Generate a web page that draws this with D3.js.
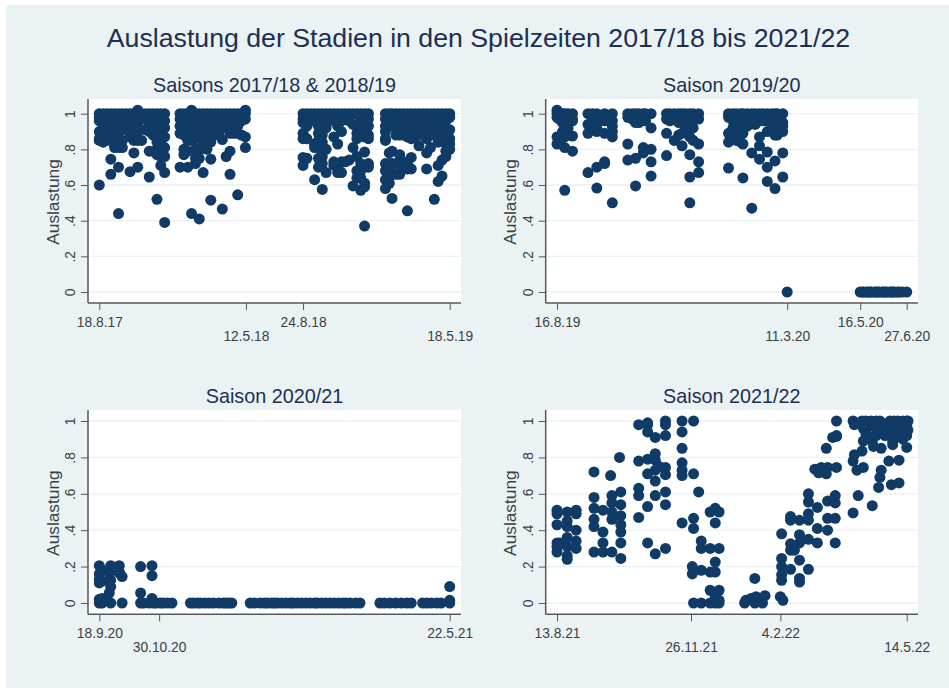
<!DOCTYPE html>
<html><head><meta charset="utf-8">
<script src="https://cdn.jsdelivr.net/npm/d3@7"></script>
<style>html,body{margin:0;padding:0;background:#fff}svg{display:block}text{font-family:"Liberation Sans",Arial,sans-serif}</style>
</head><body><div id="c"></div>
<script>
const mainTitle = "Auslastung der Stadien in den Spielzeiten 2017/18 bis 2021/22";
const yLabel = "Auslastung";
const yTicks = [0, .2, .4, .6, .8, 1];
const yTickLabels = ["0", ".2", ".4", ".6", ".8", "1"];

const titles = ["Saisons 2017/18 & 2018/19", "Saison 2019/20", "Saison 2020/21", "Saison 2021/22"];
const tickDates1 = ["18.8.17", "12.5.18", "24.8.18", "18.5.19"];
const tickDates2 = ["16.8.19", "11.3.20", "16.5.20", "27.6.20"];
const tickDates3 = ["18.9.20", "30.10.20", "22.5.21"];
const tickDates4 = ["13.8.21", "26.11.21", "4.2.22", "14.5.22"];

// days since the first tick of each panel, with the Auslastung values seen on that day
const days1 = [0,7,14,21,28,35,42,49,56,63,70,77,84,91,98,105,112,119,
  147,154,161,168,175,182,189,196,203,210,217,224,231,238,245,252,259,266,
  371,378,385,392,399,406,413,420,427,434,441,448,455,462,469,476,483,490,
  521,528,533,540,547,554,561,568,575,582,589,596,603,610,617,624,631,638];
const values1 = [
  [1,.98,.96,.90,.86,.85,.60],[1,.97,.93,.88,.84],[1,.96,.92,.88,.85],[1,.97,.93,.88,.745,.66],
  [1,.96,.92,.87,.85,.82,.81],[1,.95,.90,.87,.81,.70,.44],[1,.96,.91,.85,.81],[1,.97,.93],
  [1,.97,.93,.90,.87,.675],[1,.94,.90,.85,.78],[1.02,.98,.95,.90,.85,.70],[1,.97,.85],
  [1,.97,.91],[1,.95,.90,.79,.645],[1,.97,.93,.88,.79],[1,.96,.92,.88,.84,.77,.52],
  [1,.96,.92,.88,.84,.80,.76,.71],[1,.96,.92,.87,.81,.76,.67,.39],
  [1,.97,.93,.89,.70],[1,.96,.92,.88,.80,.77],[1,.97,.93,.89,.85,.79,.70],[1.02,.98,.95,.90,.85,.44],
  [1,.96,.91,.86,.80,.75,.72],[1,.97,.92,.87,.80,.75,.41],[1,.96,.92,.88,.84,.67],[1,.97,.92,.85,.80],
  [1,.96,.90,.84,.745,.515],[1,.96,.92,.88],[1,.97,.93,.89],[1,.96,.92,.855,.465],
  [1,.97,.92,.76],[1,.96,.92,.89,.79,.66],[1,.97,.89],[1,.97,.93,.89,.545],[1,.96,.88],[1.02,1,.97,.87,.81],
  [1,.97,.95,.89,.86,.755,.71],[1,.97,.93,.86,.75],[1],[1,.96,.83,.81,.63],
  [1,.97,.93,.89,.85,.81,.75,.70],[1,.96,.92,.88,.84,.80,.76,.72,.575],[1,.96,.92,.80,.67],[1,.97],
  [1,.96,.87,.73,.71],[1,.97,.93,.83,.70,.67],[1,.96,.90,.73,.67],[1,.73],[1,.96,.74],[1,.94,.81,.595],
  [1,.93,.89,.86,.76,.68,.64],[1,.97,.93,.88,.72,.68,.64,.57],[1,.95,.91,.87,.785,.70,.61,.59,.37],[1,.97,.93,.88,.86,.72,.70],
  [1,.97,.93,.90,.86,.85,.72,.68,.63,.58],[1,.97,.78,.72,.68,.65,.61],[1,.96,.93,.79,.72,.66,.525],[1,.96,.93,.88,.72,.66],
  [1,.96,.92,.88,.77,.72,.66],[1,.96,.92,.88,.73,.69],[1,.95,.91,.87,.72,.69,.455],[1,.96,.92,.86,.755,.69],
  [1,.96,.92,.87],[1,.96,.92,.88,.82],[1,.96,.92,.88],[1,.96,.92,.86,.78,.69],[1,.96,.92,.88,.81],[1,.96,.92,.88,.52],
  [1,.96,.92,.88,.84,.71,.62],[1,.96,.92,.86,.74,.65],[1,.96,.92,.87,.83,.79,.76],[1,.98,.91,.86,.83,.80]
];

const days2 = [0,2,5,7,10,14,28,32,36,43,50,64,68,71,74,78,80,85,
  99,102,106,110,113,116,120,123,128,
  155,159,162,166,168,172,176,179,183,186,190,194,197,199,204,208,
  274,276,277,280,281,283,284,287,288,290,291,294,295,297,298,301,302,304,305,308,309,312,316];
const values2 = [
  [1.02,1,.98,.87,.83],[1,.97,.86,.84],[1,.95,.90],[1,.93,.90,.87,.81,.57],[1,.96,.92,.88],[1,.97,.96,.875,.79],
  [1,.94,.89,.67],[1,.96,.92],[1,.96,.92,.90,.70,.583],[1,.96,.89,.73,.72],[1,.96,.93,.90,.87,.50],
  [1,.98,.83,.74],[1,.97],[1,.95,.75,.595],[1,.95],[1,.97,.81,.78],[1,.96],[1,.92,.80,.73,.65],
  [1,.97,.89,.765],[1,.96],[1,.97,.85],[1,.95,.88],[1,.97,.89,.82],[1,.96,.93],[1,.96,.92,.87,.77,.645,.50],[1,.92,.85],[1,.97,.83,.73,.67],
  [1,.98,.89,.84,.695],[1,.96,.92,.90],[1,.97,.90,.85],[1,.96,.92,.84],[1,.97,.92,.89,.83,.64],[1,.96,.93],[1,.95,.78,.47],[1,.96,.94],
  [1,.96,.87,.82,.745],[1,.96],[1,.96,.90,.785,.70,.62],[1,.96,.93],[1,.96,.88,.735,.58],[1,.97,.90,.88],[1,.95,.93,.90,.78,.645],[0],
  [0],[0],[0],[0],[0],[0],[0],[0],[0],[0],[0],[0],[0],[0],[0],[0],[0],[0],[0],[0],[0],[0],[0],[0]
];

const days3 = [0,2,7,8,14,16,29,31,35,37,38,40,43,45,48,51,
  64,66,69,71,74,77,80,84,87,89,91,93,
  106,109,113,116,118,121,123,125,128,131,134,136,139,142,145,148,151,153,156,159,162,165,168,171,173,176,180,183,
  197,200,204,208,212,216,219,227,230,233,237,240,246];
const values3 = [
  [0,.02,.11,.13,.16,.205],[0,.025,.12,.18],[.055,.125,.165],[0,.205,.125,.09],[.205,.17,.165],[0,.145],
  [0,.2,.055],[0],[0],[.205,.15,.025],[0],[0],[0],[0],[0],[0],
  [0],[0],[0],[0],[0],[0],[0],[0],[0],[0],[0],[0],
  [0],[0],[0],[0],[0],[0],[0],[0],[0],[0],[0],[0],[0],[0],[0],[0],[0],[0],[0],[0],[0],[0],[0],[0],[0],[0],[0],[0],
  [0],[0],[0],[0],[0],[0],[0],[0],[0],[0],[0],[0],[0,.015,.09]
];

const days4 = [0,2,8,15,29,36,42,43,49,50,64,71,77,80,85,98,107,106,111,113,120,124,127,
  147,148,152,155,156,160,161,163,175,176,177,183,186,190,197,202,204,205,207,211,212,216,218,219,
  232,233,235,236,239,240,242,243,246,247,248,250,251,252,253,254,257,260,261,262,263,264,267,268,269,271,274,275];
const values4 = [
  [.51,.49,.43,.33,.31,.28],[.33],[.50,.45,.42,.36,.31,.26,.24],[.51,.49,.40,.34,.30],
  [.72,.58,.52,.46,.42,.28],[.51,.39,.33,.28],[.70],[.59,.55,.50,.46,.28],[.80],[.61,.54,.48,.43,.39,.33,.245],
  [.98,.78,.63,.59,.47],[.99,.98,.94,.79,.71,.53,.33],[.91,.82,.785,.73,.67,.59,.27],[.75],[1,.98,.92,.745,.705,.61,.54,.30],
  [1,.94,.85,.77,.73,.70,.44],[1,.71,.465,.41,0],[.20,.16],[.61],[.34,.30,.18,0],
  [.50,.30,.17,.07,0],[.52,.44,.225,.17,.035,0],[.50,.30,.07,.015,0],
  [0],[.015],[.025],[.135,0],[.035],[.015],[0],[.04],
  [.035],[.38,.245,.20,.155,.125],[.015],[.475,.455,.325,.29,.185],[.29],[.455,.375,.33,.235,.135,.115],[.60,.555,.49,.455,.35,.185],
  [.735],[.525,.41,.33],[.715],[.745],[.85,.71],[.745,.56,.465,.40],[.91],[.59,.55,.465,.33],[1,.92,.915,.745],
  [1,.78,.495],[.98,.815],[.73],[.59],[1,.835],[.96,.89,.745],[1,.97,.93],[.96],[1,.91],[.89,.535],[.86],[1,.96,.92],[.95],[.635],[1,.69],[.85,.73],[.97,.92],[.78],[1,.96,.925],[.65],[.89,.87],[1,.96,.93,.90],[1,.925],[.785,.66],[.95],[1,.96,.93,.90],[1,.98,.92,.855],[1,.95]
];

const W = 949, H = 688;
const BG = "#eaf2f3", NAVY = "#0f3b66", TITLE = "#1d2f52", AXIS = "#54585c", TXT = "#3c3f44";
const panels = [
  {days:days1, vals:values1, ticks:tickDates1, title:titles[0], L:88,  R:461, xr:[99.3,449.7], T:99,  B:303,   yr:[292,113.7], tY:91.5},
  {days:days2, vals:values2, ticks:tickDates2, title:titles[1], L:545.7,R:918, xr:[557,906.7], T:99,  B:303,   yr:[292,113.7], tY:91.5},
  {days:days3, vals:values3, ticks:tickDates3, title:titles[2], L:88,  R:461, xr:[99.3,449.7], T:410, B:614.3, yr:[603,421],   tY:403},
  {days:days4, vals:values4, ticks:tickDates4, title:titles[3], L:545.7,R:918, xr:[557,906.7], T:410, B:614.3, yr:[603,421],   tY:403}
];
const parse = d3.timeParse("%d.%m.%y");
const parseTick = s => { const [d,m,y] = s.split("."); return parse(`${d.padStart(2,"0")}.${m.padStart(2,"0")}.${y}`); };

const svg = d3.select("#c").append("svg").attr("width",W).attr("height",H);
svg.append("rect").attr("x",6).attr("y",5).attr("width",W-6).attr("height",H-5).attr("fill",BG);
svg.append("text").attr("x",478.5).attr("y",47).attr("text-anchor","middle").attr("font-size",26.7).attr("fill",TITLE).text(mainTitle);

panels.forEach(p => {
  const g = svg.append("g");
  const dates = p.ticks.map(parseTick);
  const x = d3.scaleTime().domain([dates[0], dates[dates.length-1]]).range(p.xr);
  const y = d3.scaleLinear().domain([0,1]).range(p.yr);
  g.append("rect").attr("x",p.L).attr("y",p.T).attr("width",p.R-p.L).attr("height",p.B-p.T).attr("fill","#fff");
  g.selectAll("line.grid").data(yTicks).join("line").attr("class","grid")
    .attr("x1",p.L).attr("x2",p.R).attr("y1",y).attr("y2",y).attr("stroke",BG).attr("stroke-width",1.3);
  g.append("text").attr("x",(p.L+p.R)/2).attr("y",p.tY).attr("text-anchor","middle").attr("font-size",19.8).attr("fill",TITLE).text(p.title);

  // points
  const pts = p.days.flatMap((d,i) => p.vals[i].map(v => ({d,v})));
  g.selectAll("circle").data(pts).join("circle")
    .attr("cx",d => x(d3.timeDay.offset(dates[0], d.d)))
    .attr("cy",d => y(d.v)).attr("r",5.5).attr("fill",NAVY);

  // y axis
  const ya = g.append("g").attr("transform",`translate(${p.L},0)`)
    .call(d3.axisLeft(y).tickValues(yTicks).tickFormat((d,i)=>yTickLabels[i]).tickSize(7).tickPadding(3));
  ya.select(".domain").attr("d",`M0,${p.T}V${p.B}`).attr("stroke",AXIS).attr("stroke-width",1.5);
  ya.selectAll(".tick line").attr("stroke",AXIS).attr("stroke-width",1);
  ya.selectAll(".tick text").attr("font-size",13.8).attr("fill",TXT)
    .attr("text-anchor","middle").attr("dy",0).attr("x",null)
    .attr("transform","translate(-13,0) rotate(-90)");

  // x axis
  const xa = g.append("g").attr("transform",`translate(0,${p.B})`)
    .call(d3.axisBottom(x).tickValues(dates).tickFormat((d,i)=>p.ticks[i]).tickSize(7).tickPadding(3));
  xa.select(".domain").attr("d",`M${p.L},0H${p.R}`).attr("stroke",AXIS).attr("stroke-width",1.5);
  xa.selectAll(".tick line").attr("stroke",AXIS).attr("stroke-width",1);
  xa.selectAll(".tick text").attr("font-size",13.8).attr("fill",TXT).attr("dy",null)
    .attr("y",(d,i)=> i%2 ? 38 : 24);

  g.append("text").attr("transform",`translate(${p.L-29.5},${(p.T+p.B)/2+1}) rotate(-90)`)
    .attr("text-anchor","middle").attr("font-size",17.3).attr("fill",TXT).text(yLabel);
});
</script></body></html>
